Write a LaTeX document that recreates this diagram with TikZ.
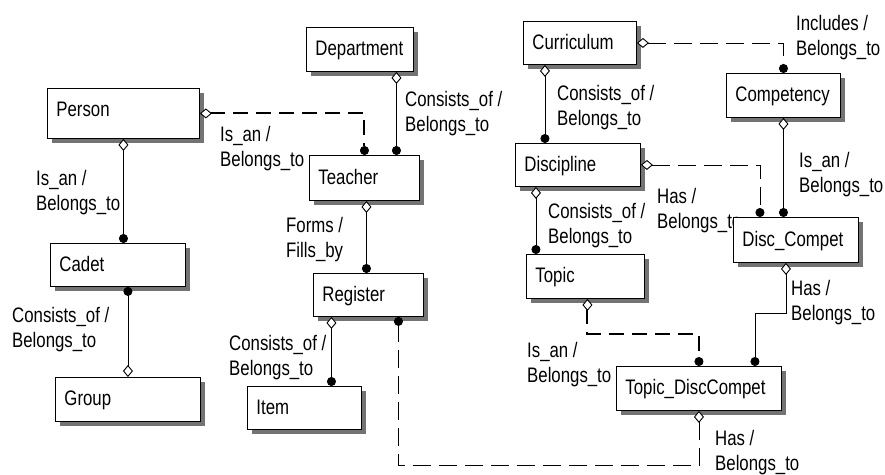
\documentclass[tikz,border=0pt]{standalone}
\usepackage{fontspec}
\setmainfont{Liberation Sans}[FakeStretch=0.8]
\usetikzlibrary{arrows.meta,shadows}
\tikzstyle{entity} = [draw=black, fill=white, rectangle, line width=0.9pt, anchor=north west, align=left,
inner xsep=9pt, text height=15pt, text depth=2pt, font=\fontsize{21}{25}\selectfont,
drop shadow={shadow xshift=5pt, shadow yshift=-5pt, fill=black!55, opacity=1}]
\tikzstyle{label} = [anchor=north west, inner sep=0pt, align=left, font=\fontsize{21}{25}\selectfont]
\tikzstyle{rel} = [line width=0.9pt, arrows={Diamond[length=12pt,width=10pt,fill=white,line width=0.9pt]-Circle[length=9pt,line width=0.9pt]}]
\tikzstyle{thinrel} = [rel, dash pattern=on 18pt off 8pt]
\tikzstyle{thickrel} = [rel, line width=2pt, dash pattern=on 15pt off 8pt]

\begin{document}
\begin{tikzpicture}[x=1pt,y=-1pt]
    \useasboundingbox (0,0) rectangle (885,474);
    \node[label] (lpt) at (220,126) {Is\_an /\\Belongs\_to};
    \node[label] (lpc) at (36,170) {Is\_an /\\Belongs\_to};
    \node[label] (lcg) at (12,307) {Consists\_of /\\Belongs\_to};
    \node[label] (lri) at (229,335) {Consists\_of /\\Belongs\_to};
    \node[label] (ldt) at (405,91) {Consists\_of /\\Belongs\_to};
    \node[label] (ltr) at (286,217) {Forms /\\Fills\_by};
    \node[label] (lcc) at (796,15) {Includes /\\Belongs\_to};
    \node[label] (lcd) at (557,85) {Consists\_of /\\Belongs\_to};
    \node[label] (lcm) at (799,152) {Is\_an /\\Belongs\_to};
    \node[label] (ldd) at (657,188) {Has /\\Belongs\_to};
    \node[label] (ldtp) at (548,203) {Consists\_of /\\Belongs\_to};
    \node[label] (ldc) at (791,280) {Has /\\Belongs\_to};
    \node[label] (ltt) at (527,342) {Is\_an /\\Belongs\_to};
    \node[label] (ltdr) at (715,430) {Has /\\Belongs\_to};

    \node[entity, text width=134pt, minimum height=50pt, text depth=9pt] (person) at (47,88) {Person};
    \node[entity, text width=117pt, minimum height=43pt] (cadet) at (50,243) {Cadet};
    \node[entity, text width=127pt, minimum height=44pt] (group) at (55,377) {Group};
    \node[entity, text width=96pt, minimum height=43pt] (item) at (247,386) {Item};
    \node[entity, text width=92pt, minimum height=43pt] (register) at (313,273) {Register};
    \node[entity, text width=89pt, minimum height=44pt] (department) at (306,27) {Department};
    \node[entity, text width=92pt, minimum height=45pt] (teacher) at (309,155) {Teacher};
    \node[entity, text width=95pt, minimum height=43pt] (curriculum) at (523,21) {Curriculum};
    \node[entity, text width=96pt, minimum height=44pt] (competency) at (726,73) {Competency};
    \node[entity, text width=107pt, minimum height=43pt] (discipline) at (515,143) {Discipline};
    \node[entity, text width=107pt, minimum height=45pt] (disccompet) at (733,217) {Disc\_Compet};
    \node[entity, text width=100pt, minimum height=44pt] (topic) at (526,254) {Topic};
    \node[entity, text width=147pt, minimum height=44pt] (tdc) at (616,366) {Topic\_DiscCompet};

    \coordinate (dtin) at ([xshift=32pt]teacher.north);
    \coordinate (trin) at ([xshift=-2pt]register.north);
    \coordinate (riout) at ([xshift=-37pt]register.south);
    \coordinate (rtin) at ([xshift=30pt]register.south);
    \coordinate (cdout) at ([xshift=-35pt]curriculum.south);
    \coordinate (ddin) at ([xshift=-36pt]disccompet.north);
    \coordinate (dtpout) at ([xshift=-42pt]discipline.south);
    \coordinate (ttout) at ([xshift=2pt]topic.south);
    \coordinate (dcout) at ([xshift=-10pt]disccompet.south);
    \coordinate (dcin) at ([xshift=56pt]tdc.north);

    \draw[thickrel] (person.east) -| (teacher.north);
    \draw[rel] (dtin |- department.south) -- (dtin);
    \draw[rel] (person.south) -- (person.south |- cadet.north);
    \draw[rel] (group.north) -- (group.north |- cadet.south);
    \draw[rel] (trin |- teacher.south) -- (trin);
    \draw[rel] (riout) -- (riout |- item.north);
    \draw[thinrel] (tdc.south) -- ([yshift=-55pt]tdc.south) -| (rtin);
    \draw[thinrel] (curriculum.east) -| (competency.north);
    \draw[rel] (cdout) -- (cdout |- discipline.north);
    \draw[thinrel] (discipline.east) -| (ddin);
    \draw[rel] (competency.south) -- (competency.south |- disccompet.north);
    \draw[rel] (dtpout) -- (dtpout |- topic.north);
    \draw[thickrel] (ttout) -- ([yshift=-35pt]ttout) -| (tdc.north);
    \draw[rel] (dcout) -- ([yshift=-51pt]dcout) -| (dcin);
\end{tikzpicture}
\end{document}
